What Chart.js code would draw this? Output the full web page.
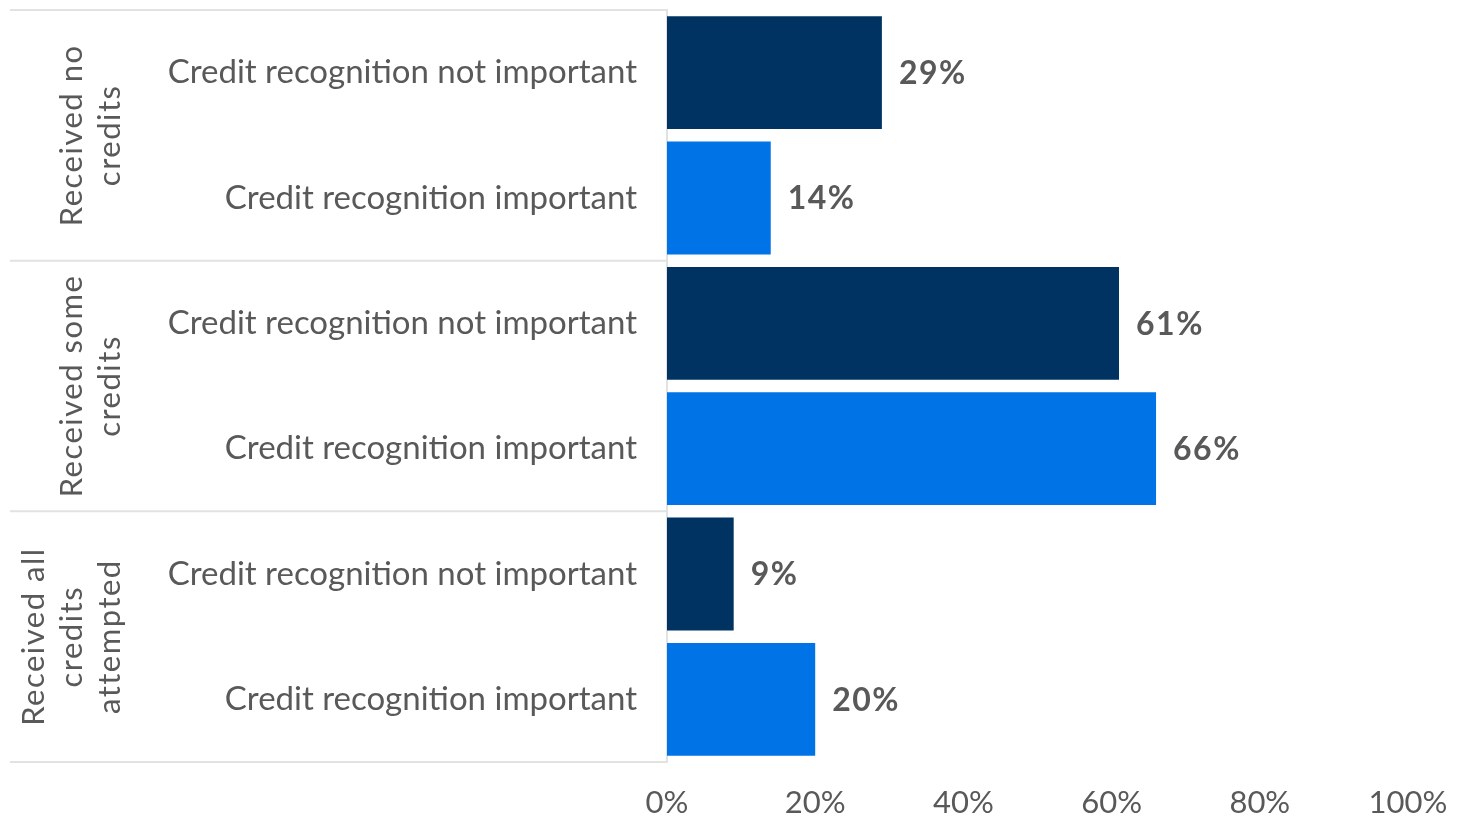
<!DOCTYPE html>
<html lang="en">
  <head>
    <meta charset="UTF-8" />
    <title>Credit recognition</title>
    <script src="https://cdn.jsdelivr.net/npm/chart.js@4"></script>
    <style>
      html,
      body {
        margin: 0;
        padding: 0;
        background: #fff;
      }
      #wrap {
        width: 1476px;
        height: 818px;
      }
    </style>
  </head>
  <body>
    <div id="wrap">
      <canvas id="credits"></canvas>
    </div>
    <script>
      const categories = [
        'Credit recognition not important',
        'Credit recognition important',
        'Credit recognition not important',
        'Credit recognition important',
        'Credit recognition not important',
        'Credit recognition important',
      ];
      const groups = [
        ['Received no', 'credits'],
        ['Received some', 'credits'],
        ['Received all', 'credits', 'attempted'],
      ];
      const values = [29, 14, 61, 66, 9, 20];
      const barColors = ['#003361', '#0073e6', '#003361', '#0073e6', '#003361', '#0073e6'];

      const textGray = '#595959';
      const lineGray = '#e2e2e2';

      // percentages at the end of each bar
      const valueLabels = {
        id: 'valueLabels',
        afterDatasetsDraw(chart) {
          const ctx = chart.ctx;
          const meta = chart.getDatasetMeta(0);
          ctx.save();
          ctx.font = 'bold 32px Lato';
          ctx.letterSpacing = '1.5px';
          ctx.fillStyle = textGray;
          ctx.textAlign = 'left';
          ctx.textBaseline = 'middle';
          meta.data.forEach((bar, i) => {
            ctx.fillText(values[i] + '%', bar.x + 17, bar.y + 1);
          });
          ctx.restore();
        },
      };

      // group separators and rotated group names on the left
      const groupLabels = {
        id: 'groupLabels',
        afterDraw(chart) {
          const ctx = chart.ctx;
          const y = chart.scales.y;
          const step = (y.bottom - y.top) / categories.length;
          ctx.save();
          ctx.strokeStyle = lineGray;
          ctx.lineWidth = 2;
          for (let k = 0; k <= groups.length; k++) {
            const py = y.top + k * 2 * step;
            ctx.beginPath();
            ctx.moveTo(10, py);
            ctx.lineTo(y.right, py);
            ctx.stroke();
          }
          ctx.font = '31px Lato';
          ctx.letterSpacing = '1.5px';
          ctx.fillStyle = textGray;
          ctx.textAlign = 'center';
          ctx.textBaseline = 'middle';
          groups.forEach((lines, g) => {
            const cy = y.top + (g * 2 + 1) * step;
            lines.forEach((line, j) => {
              const cx = 110 - (lines.length - 1 - j) * 38;
              ctx.save();
              ctx.translate(cx, cy);
              ctx.rotate(-Math.PI / 2);
              ctx.fillText(line, 0, 0);
              ctx.restore();
            });
          });
          ctx.restore();
        },
      };

      new Chart(document.getElementById('credits'), {
        type: 'bar',
        data: {
          labels: categories,
          datasets: [
            {
              data: values,
              backgroundColor: barColors,
              barPercentage: 0.9,
              categoryPercentage: 1,
            },
          ],
        },
        options: {
          indexAxis: 'y',
          responsive: true,
          maintainAspectRatio: false,
          animation: false,
          layout: {
            padding: { top: 10, right: 68, left: 0, bottom: 0 },
          },
          plugins: {
            legend: { display: false },
            tooltip: { enabled: false },
          },
          scales: {
            x: {
              min: 0,
              max: 100,
              ticks: {
                stepSize: 20,
                padding: 22,
                color: textGray,
                font: { family: 'Lato', size: 31 },
                callback: (v) => v + '%',
              },
              grid: { display: false, drawTicks: false },
              border: { display: false },
              afterFit(scale) {
                scale.height = 56;
                scale.paddingLeft = 0;
                scale.paddingRight = 0;
              },
            },
            y: {
              ticks: {
                padding: 30,
                color: textGray,
                font: { family: 'Lato', size: 33 },
              },
              grid: { display: false, drawTicks: false },
              border: { display: true, color: lineGray, width: 2 },
              afterFit(scale) {
                scale.width = 667;
                scale.paddingTop = 0;
                scale.paddingBottom = 0;
              },
            },
          },
        },
        plugins: [valueLabels, groupLabels],
      });
    </script>
  </body>
</html>
